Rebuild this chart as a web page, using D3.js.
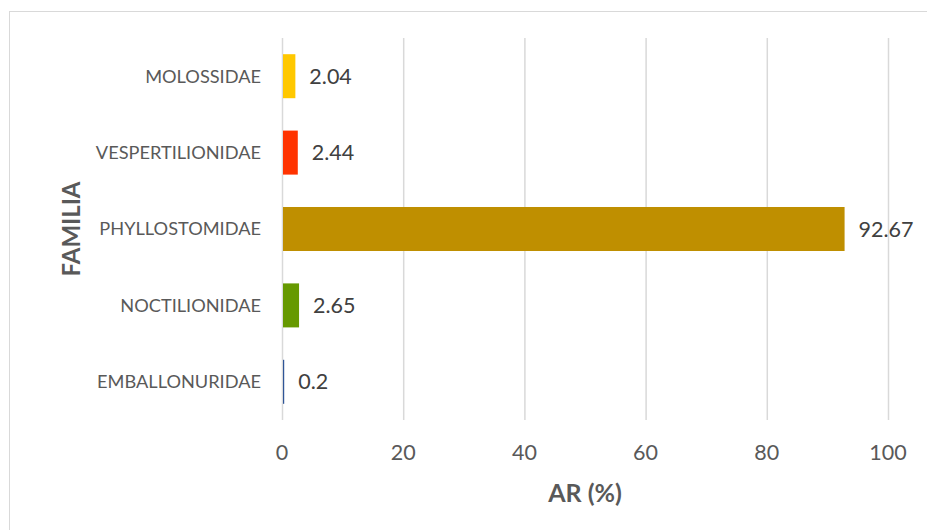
<!DOCTYPE html>
<html><head><meta charset="utf-8">
<script src="https://cdn.jsdelivr.net/npm/d3@7"></script>
<style>body{margin:0;background:#fff;}svg{display:block;font-family:Lato,"Open Sans",sans-serif;}</style>
</head><body>
<svg id="c" width="927" height="530"></svg>
<script>
const categories = ["MOLOSSIDAE","VESPERTILIONIDAE","PHYLLOSTOMIDAE","NOCTILIONIDAE","EMBALLONURIDAE"];
const values = [2.04, 2.44, 92.67, 2.65, 0.2];
const colors = ["#FFC800","#FF3300","#BF8F00","#669900","#2F5597"];
const xTicks = [0,20,40,60,80,100];
const xTitle = "AR (%)";
const yTitle = "FAMILIA";

const svg = d3.select("#c");
svg.append("rect").attr("x",9.5).attr("y",11.5).attr("width",940).attr("height",540)
  .attr("fill","#fff").attr("stroke","#d9d9d9").attr("stroke-width",1);

const pL=282, pR=888, pT=38, pB=420;
const x = d3.scaleLinear().domain([0,100]).range([pL,pR]);
const y = d3.scaleBand().domain(categories).range([pT,pB]).paddingInner(0.424).paddingOuter(0.212);

svg.append("g").selectAll("line").data(xTicks).join("line")
  .attr("x1",d=>x(d)+0.5).attr("x2",d=>x(d)+0.5).attr("y1",pT).attr("y2",pB)
  .attr("stroke","#d9d9d9").attr("stroke-width",1.5);

svg.append("g").selectAll("rect").data(categories).join("rect")
  .attr("x",x(0)+1).attr("y",d=>y(d)).attr("height",y.bandwidth())
  .attr("width",(d,i)=>Math.max(1.2,x(values[i])-x(0)))
  .attr("fill",(d,i)=>colors[i]);

svg.append("g").selectAll("text").data(categories).join("text")
  .attr("x",261).attr("y",d=>y(d)+y.bandwidth()/2).attr("dy","0.35em")
  .attr("text-anchor","end").attr("fill","#595959").attr("font-size",18.2).text(d=>d);

svg.append("g").selectAll("text").data(categories).join("text")
  .attr("x",(d,i)=>x(values[i])+15).attr("y",d=>y(d)+y.bandwidth()/2).attr("dy","0.35em")
  .attr("fill","#404040").attr("font-size",21.5).text((d,i)=>values[i]);

svg.append("g").selectAll("text").data(xTicks).join("text")
  .attr("x",d=>x(d)).attr("y",452).attr("dy","0.35em").attr("text-anchor","middle")
  .attr("fill","#595959").attr("font-size",21.5).text(d=>d);

svg.append("text").attr("x",(pL+pR)/2).attr("y",493).attr("dy","0.35em")
  .attr("text-anchor","middle").attr("font-weight","bold").attr("fill","#595959")
  .attr("font-size",25).text(xTitle);

svg.append("text").attr("transform",`translate(72,${(pT+pB)/2}) rotate(-90)`)
  .attr("dy","0.35em").attr("text-anchor","middle").attr("font-weight","bold")
  .attr("fill","#595959").attr("font-size",24).text(yTitle);
</script>
</body></html>
